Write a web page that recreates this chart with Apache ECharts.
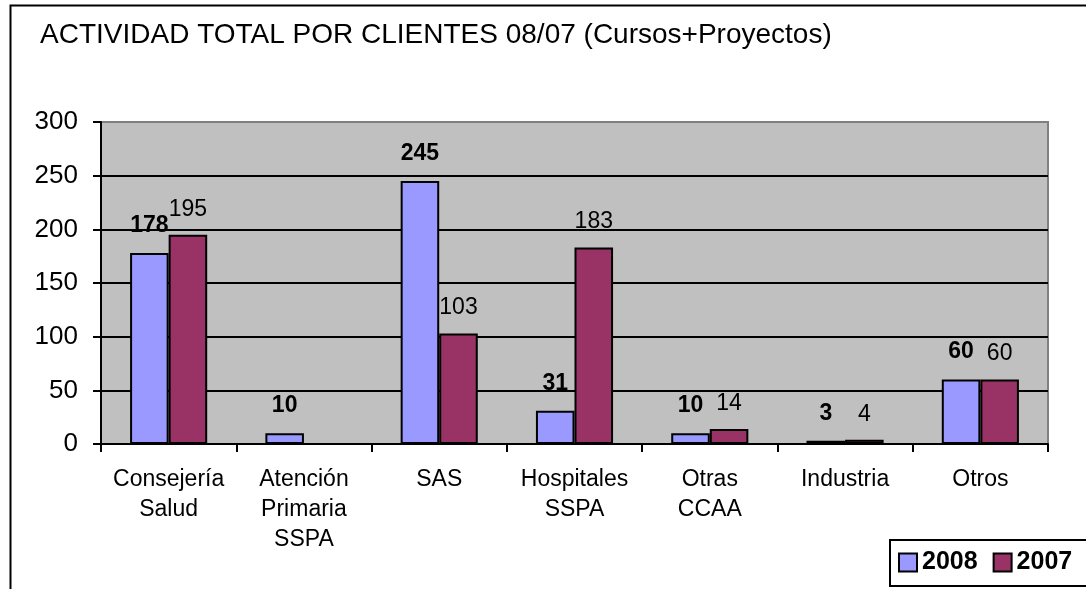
<!DOCTYPE html>
<html>
<head>
<meta charset="utf-8">
<script src="https://cdn.jsdelivr.net/npm/echarts@6/dist/echarts.min.js"></script>
<style>
  html, body { margin: 0; padding: 0; background: #fff; }
  #chart { width: 1086px; height: 589px; }
</style>
</head>
<body>
<div id="chart"></div>
<script>
const categories = ['Consejería\nSalud', 'Atención\nPrimaria\nSSPA', 'SAS', 'Hospitales\nSSPA', 'Otras\nCCAA', 'Industria', 'Otros'];
const values2008 = [178, 10, 245, 31, 10, 3, 60];
const values2007 = [195, null, 103, 183, 14, 4, 60];
const yTicks = [0, 50, 100, 150, 200, 250, 300];

const chart = echarts.init(document.getElementById('chart'));
const font = 'Arial, "Liberation Sans", sans-serif';

chart.setOption({
  animation: false,
  backgroundColor: '#fff',
  textStyle: { fontFamily: font },
  title: {
    text: 'ACTIVIDAD TOTAL POR CLIENTES 08/07 (Cursos+Proyectos)',
    left: 35, top: 16,
    textStyle: { fontFamily: font, fontSize: 28, fontWeight: 'normal', color: '#000' }
  },
  graphic: [
    { type: 'rect', left: 8, top: 3, shape: { width: 1100, height: 620 },
      style: { fill: 'none', stroke: '#000', lineWidth: 2 }, z: 0 },
    { type: 'rect', left: 889, top: 539, shape: { width: 250, height: 46 },
      style: { fill: '#fff', stroke: '#000', lineWidth: 2 }, z: 5 }
  ],
  legend: {
    left: 898, top: 550, padding: 0, itemGap: 15, itemWidth: 18, itemHeight: 18,
    icon: 'rect', z: 10,
    textStyle: { fontFamily: font, fontSize: 25, fontWeight: 'bold', color: '#000', padding: [0, 0, 0, 0] },
    itemStyle: { borderColor: '#000', borderWidth: 2 }
  },
  grid: {
    left: 101, right: 38, top: 122, bottom: 145,
    show: true, backgroundColor: '#C0C0C0', borderColor: '#808080', borderWidth: 2
  },
  xAxis: {
    type: 'category', data: categories,
    axisLine: { lineStyle: { color: '#000', width: 2 } },
    axisTick: { show: true, length: 8, lineStyle: { color: '#000', width: 2 } },
    axisLabel: { color: '#000', fontSize: 23, lineHeight: 30, margin: 21, interval: 0, fontFamily: font }
  },
  yAxis: {
    type: 'value', min: yTicks[0], max: yTicks[yTicks.length - 1], interval: 50,
    axisLine: { show: true, lineStyle: { color: '#000', width: 2 } },
    axisTick: { show: true, length: 8, lineStyle: { color: '#000', width: 2 } },
    axisLabel: { color: '#000', fontSize: 26, margin: 23, fontFamily: font },
    splitLine: { lineStyle: { color: ['#000', '#000', '#000', '#000', '#000', '#000', '#808080'], width: 2 } }
  },
  series: [
    {
      name: '2008', type: 'bar', data: values2008,
      barGap: '0%', barCategoryGap: '43%',
      itemStyle: { color: '#9999FF', borderColor: '#000', borderWidth: 2 },
      label: { show: true, position: 'top', distance: 16, fontSize: 23, fontWeight: 'bold', color: '#000', fontFamily: font }
    },
    {
      name: '2007', type: 'bar', data: values2007,
      itemStyle: { color: '#993366', borderColor: '#000', borderWidth: 2 },
      label: { show: true, position: 'top', distance: 14, fontSize: 23, color: '#000', fontFamily: font }
    }
  ]
});
</script>
</body>
</html>
